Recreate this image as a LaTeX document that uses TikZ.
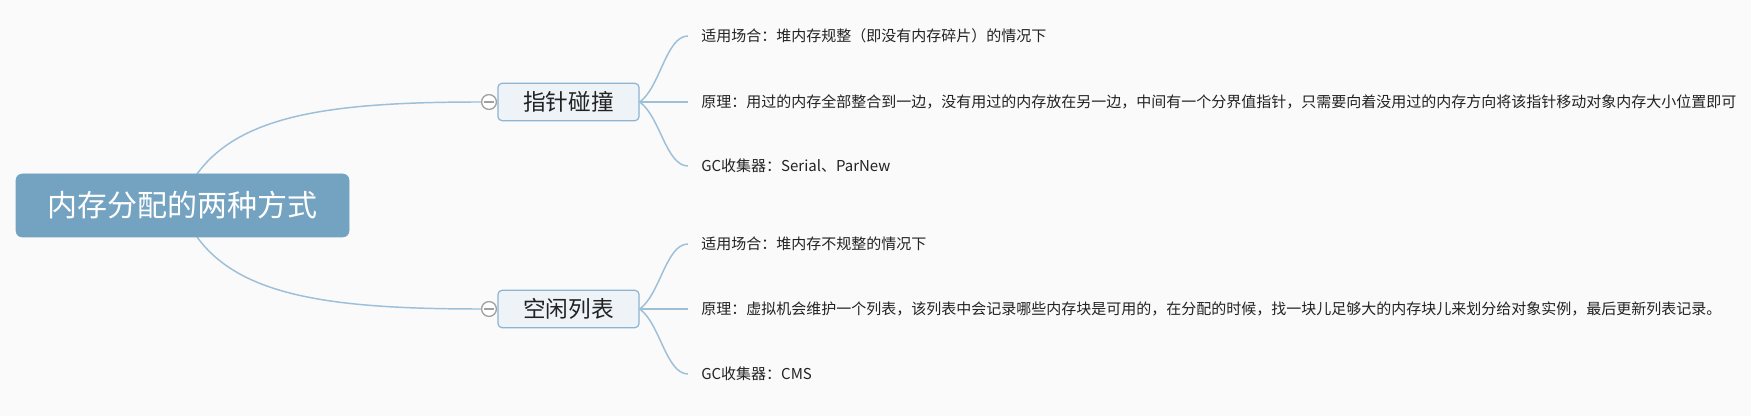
\documentclass[tikz,border=0pt]{standalone}
\usepackage{fontspec}
\setmainfont{Noto Sans CJK SC}
\usetikzlibrary{calc}
\definecolor{bgc}{RGB}{250,250,250}
\definecolor{rootfill}{RGB}{116,163,194}
\definecolor{linec}{RGB}{157,191,216}
\definecolor{subborder}{RGB}{141,180,210}
\definecolor{subfill}{RGB}{238,243,248}
\definecolor{foldc}{RGB}{160,160,160}
\definecolor{txt}{RGB}{34,34,34}
\tikzset{
  rootbox/.style={draw=rootfill, fill=rootfill, rounded corners=4.5pt, minimum width=249.75pt, minimum height=47.25pt, inner sep=0pt, text=white, font=\fontsize{22.5pt}{27pt}\selectfont},
  subbox/.style={draw=subborder, line width=0.9pt, fill=subfill, rounded corners=3pt, minimum width=105.75pt, minimum height=28pt, inner sep=0pt, text=txt, font=\fontsize{17pt}{20pt}\selectfont},
  foldbtn/.style={circle, draw=foldc, line width=0.9pt, fill=white, minimum size=11pt, inner sep=0pt},
  leafnode/.style={anchor=west, inner xsep=9.75pt, inner ysep=0pt, text=txt, font=\fontsize{11.25pt}{13pt}\selectfont},
  conn/.style={draw=linec, line width=1.1pt},
}
\begin{document}
\begin{tikzpicture}[x=0.75pt,y=-0.75pt]
\fill[bgc] (0,0) rectangle (1751,416);
\useasboundingbox (0,0) rectangle (1751,416);

\coordinate (rt) at (197,174);
\coordinate (rb) at (197,237);

% fold buttons and connectors root -> subs
\node[foldbtn] (ca) at (489,102) {};
\node[foldbtn] (cb) at (489,309) {};
\draw[conn] (rt) .. controls (240,115) and (330,102) .. (ca.west);
\draw[conn] (rb) .. controls (240,296) and (330,309) .. (cb.west);

\node[rootbox] (root) at (182.5,205.5) {内存分配的两种方式};

\node[subbox] (a) at (568.5,102) {指针碰撞};
\node[subbox] (b) at (568.5,309) {空闲列表};

\node[foldbtn] (ca2) at (489,102) {};
\node[foldbtn] (cb2) at (489,309) {};
\draw[foldc, line width=0.9pt] ([xshift=2pt]ca2.west) -- ([xshift=-2pt]ca2.east);
\draw[foldc, line width=0.9pt] ([xshift=2pt]cb2.west) -- ([xshift=-2pt]cb2.east);

% leaves
\node[leafnode] (a1) at (688,36) {适用场合：堆内存规整（即没有内存碎片）的情况下};
\node[leafnode] (a2) at (688,102) {原理：用过的内存全部整合到一边，没有用过的内存放在另一边，中间有一个分界值指针，只需要向着没用过的内存方向将该指针移动对象内存大小位置即可};
\node[leafnode] (a3) at (688,166) {GC收集器：Serial、ParNew};

\node[leafnode] (b1) at (688,244) {适用场合：堆内存不规整的情况下};
\node[leafnode] (b2) at (688,309) {原理：虚拟机会维护一个列表，该列表中会记录哪些内存块是可用的，在分配的时候，找一块儿足够大的内存块儿来划分给对象实例，最后更新列表记录。};
\node[leafnode] (b3) at (688,374) {GC收集器：CMS};

\draw[conn] (a.east) .. controls (660,88) and (666,36) .. (a1.west);
\draw[conn] (a.east) -- (a2.west);
\draw[conn] (a.east) .. controls (660,116) and (666,166) .. (a3.west);

\draw[conn] (b.east) .. controls (660,295) and (666,244) .. (b1.west);
\draw[conn] (b.east) -- (b2.west);
\draw[conn] (b.east) .. controls (660,323) and (666,374) .. (b3.west);
\end{tikzpicture}
\end{document}
